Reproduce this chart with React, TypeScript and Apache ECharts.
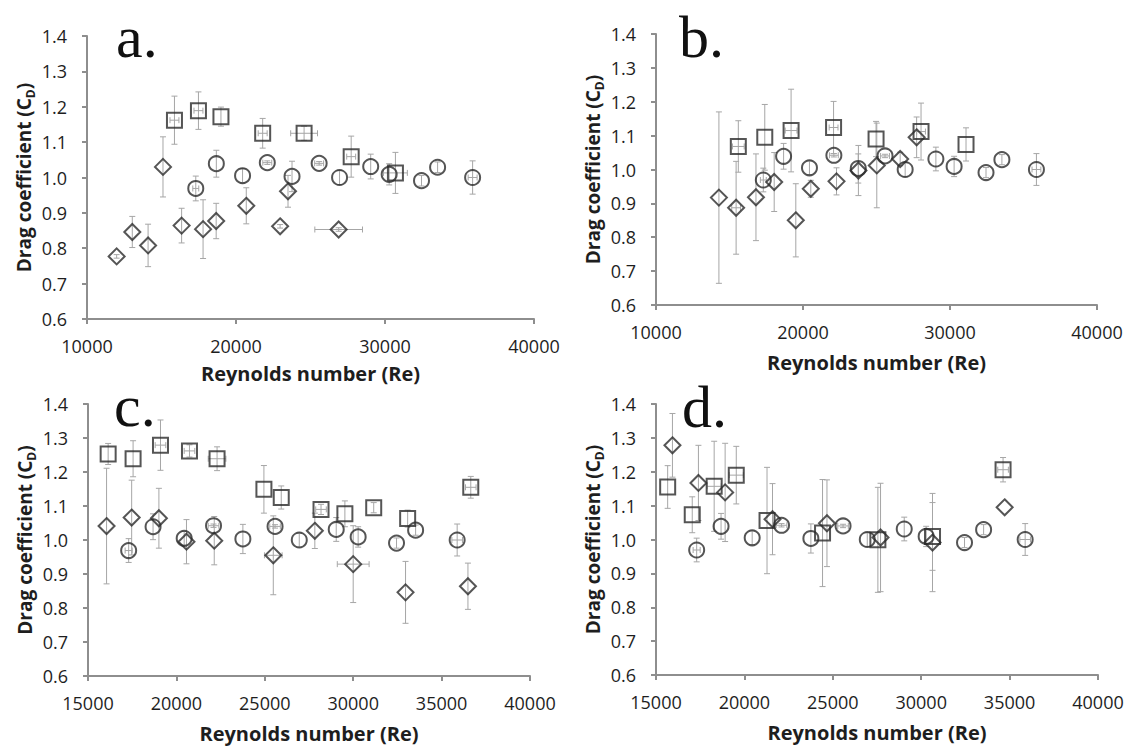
import React, { useEffect, useRef } from "react";
import * as echarts from "echarts";

// Each point: [Reynolds number, drag coefficient, Cd error (half), Re error (half)]
// Reference cylinder (circles) - same in every panel
const cylinder = [
  [17300, 0.969, 0.035, 200],
  [18680, 1.039, 0.038, 0],
  [20440, 1.005, 0.02, 0],
  [22100, 1.042, 0.005, 300],
  [23760, 1.003, 0.043, 0],
  [25580, 1.04, 0.005, 300],
  [26950, 1.0, 0.02, 0],
  [29040, 1.031, 0.035, 0],
  [30280, 1.009, 0.03, 0],
  [32450, 0.991, 0.015, 0],
  [33530, 1.029, 0.015, 0],
  [35880, 1.0, 0.047, 300],
];

// Panel a
const aSquares = [
  [15870, 1.162, 0.068, 300],
  [17480, 1.189, 0.053, 300],
  [18990, 1.172, 0.027, 0],
  [21790, 1.125, 0.042, 300],
  [24570, 1.125, 0.02, 900],
  [27730, 1.059, 0.058, 300],
  [30700, 1.013, 0.058, 800],
];
const aDiamonds = [
  [11990, 0.777, 0.005, 0],
  [13040, 0.846, 0.044, 0],
  [14100, 0.808, 0.06, 0],
  [15100, 1.03, 0.085, 0],
  [16350, 0.864, 0.049, 0],
  [17790, 0.854, 0.083, 0],
  [18670, 0.877, 0.05, 0],
  [20690, 0.92, 0.051, 0],
  [22960, 0.862, 0.005, 0],
  [23490, 0.961, 0.045, 0],
  [26890, 0.853, 0.005, 1600],
];

// Panel b
const bSquares = [
  [15600, 1.068, 0.076, 400],
  [17400, 1.095, 0.097, 0],
  [19190, 1.115, 0.122, 400],
  [22080, 1.124, 0.077, 300],
  [24970, 1.09, 0.052, 0],
  [28030, 1.112, 0.084, 300],
  [31090, 1.074, 0.049, 0],
];
const bDiamonds = [
  [14280, 0.917, 0.253, 0],
  [15450, 0.887, 0.137, 300],
  [16800, 0.918, 0.128, 0],
  [18040, 0.963, 0.087, 0],
  [19510, 0.85, 0.108, 0],
  [20530, 0.943, 0.025, 0],
  [22280, 0.965, 0.04, 0],
  [23770, 0.997, 0.074, 0],
  [25020, 1.012, 0.125, 0],
  [26610, 1.031, 0.02, 0],
  [27730, 1.095, 0.06, 0],
];

// Panel c
const cSquares = [
  [16140, 1.253, 0.031, 0],
  [17550, 1.239, 0.053, 0],
  [19100, 1.279, 0.074, 300],
  [20740, 1.262, 0.018, 300],
  [22300, 1.239, 0.035, 500],
  [24950, 1.149, 0.07, 0],
  [25930, 1.125, 0.034, 0],
  [28180, 1.09, 0.015, 300],
  [29530, 1.077, 0.038, 0],
  [31160, 1.095, 0.015, 0],
  [33080, 1.063, 0.025, 0],
  [36650, 1.155, 0.032, 300],
];
const cDiamonds = [
  [16050, 1.041, 0.17, 0],
  [17470, 1.066, 0.11, 0],
  [19010, 1.064, 0.088, 0],
  [20570, 0.995, 0.065, 0],
  [22140, 0.998, 0.071, 0],
  [25480, 0.955, 0.116, 500],
  [27830, 1.027, 0.052, 0],
  [30000, 0.929, 0.113, 900],
  [32960, 0.846, 0.091, 0],
  [36490, 0.864, 0.068, 0],
];

// Panel d
const dSquares = [
  [15660, 1.155, 0.063, 0],
  [17050, 1.073, 0.053, 0],
  [18290, 1.157, 0.133, 400],
  [19540, 1.19, 0.085, 400],
  [21280, 1.056, 0.157, 0],
  [24420, 1.019, 0.158, 0],
  [27550, 0.999, 0.155, 0],
  [30640, 1.009, 0.1, 0],
  [34630, 1.206, 0.036, 300],
];
const dDiamonds = [
  [15930, 1.278, 0.094, 0],
  [17400, 1.167, 0.111, 0],
  [18910, 1.139, 0.145, 0],
  [21590, 1.06, 0.105, 0],
  [24670, 1.048, 0.128, 0],
  [27700, 1.006, 0.16, 0],
  [30640, 0.991, 0.145, 0],
  [34720, 1.095, 0, 0],
];

const panelLetters = ["a.", "b.", "c.", "d."];
const reMin = [10000, 10000, 15000, 15000];
const reMax = 40000;
const reInterval = [10000, 10000, 5000, 5000];
const cdMin = 0.6;
const cdMax = 1.4;
const cdInterval = 0.1;
const xTitle = "Reynolds number (Re)";

const panelData = [
  { squares: aSquares, circles: cylinder, diamonds: aDiamonds },
  { squares: bSquares, circles: cylinder, diamonds: bDiamonds },
  { squares: cSquares, circles: cylinder, diamonds: cDiamonds },
  { squares: dSquares, circles: cylinder, diamonds: dDiamonds },
];

// layout (pixels)
const grids = [
  { left: 87, top: 36, width: 447, height: 283 },
  { left: 656, top: 34, width: 441, height: 271 },
  { left: 88, top: 404, width: 442, height: 272 },
  { left: 656, top: 404, width: 442, height: 271 },
];
const letterPos = [
  [116, 37],
  [679, 37],
  [114, 406],
  [682, 407],
];
const xNameGap = [44, 47, 47, 47];

const FONT = '"Open Sans", "Liberation Sans", sans-serif';
const MARK = "#2a2a2a";
const ERR = "#a6a6a6";
const AXIS = "#8e8e8e";
const TEXT = "#1e1e1e";

function errorBars(_params: any, api: any) {
  const x = api.value(0);
  const y = api.value(1);
  const ey = api.value(2);
  const ex = api.value(3);
  const c = api.coord([x, y]);
  const style = { stroke: ERR, lineWidth: 1, fill: null };
  const CAP = 3;
  const kids: any[] = [];
  if (ey > 0) {
    const t = api.coord([x, y + ey])[1];
    const b = api.coord([x, y - ey])[1];
    kids.push({ type: "line", shape: { x1: c[0], y1: t, x2: c[0], y2: b }, style });
    kids.push({ type: "line", shape: { x1: c[0] - CAP, y1: t, x2: c[0] + CAP, y2: t }, style });
    kids.push({ type: "line", shape: { x1: c[0] - CAP, y1: b, x2: c[0] + CAP, y2: b }, style });
  }
  if (ex > 0) {
    const l = api.coord([x - ex, y])[0];
    const r = api.coord([x + ex, y])[0];
    kids.push({ type: "line", shape: { x1: l, y1: c[1], x2: r, y2: c[1] }, style });
    kids.push({ type: "line", shape: { x1: l, y1: c[1] - CAP, x2: l, y2: c[1] + CAP }, style });
    kids.push({ type: "line", shape: { x1: r, y1: c[1] - CAP, x2: r, y2: c[1] + CAP }, style });
  }
  return { type: "group", children: kids };
}

export default function App() {
  const ref = useRef<HTMLDivElement>(null);
  useEffect(() => {
    if (!ref.current) return;
    const chart = echarts.init(ref.current, null, { renderer: "svg" });
    const series: any[] = [];
    panelData.forEach((p, i) => {
      const sets: [number[][], string, number][] = [
        [p.circles, "circle", 15],
        [p.diamonds, "diamond", 16],
        [p.squares, "rect", 15],
      ];
      sets.forEach(([data, symbol, size]) => {
        series.push({
          type: "custom",
          xAxisIndex: i,
          yAxisIndex: i,
          data,
          encode: { x: 0, y: 1 },
          renderItem: errorBars,
          silent: true,
          z: 1,
        });
        series.push({
          type: "scatter",
          xAxisIndex: i,
          yAxisIndex: i,
          data: data.map((d) => [d[0], d[1]]),
          symbol,
          symbolSize: size,
          itemStyle: { color: "rgba(0,0,0,0)", borderColor: MARK, borderWidth: 2 },
          silent: true,
          z: 3,
        });
      });
    });

    const option: any = {
      animation: false,
      backgroundColor: "#ffffff",
      grid: grids.map((g) => ({ ...g, containLabel: false })),
      xAxis: grids.map((_, i) => ({
        gridIndex: i,
        type: "value",
        min: reMin[i],
        max: reMax,
        interval: reInterval[i],
        axisLine: { show: true, onZero: false, lineStyle: { color: AXIS, width: 2 } },
        axisTick: { show: true, length: 5, lineStyle: { color: AXIS, width: 2 } },
        splitLine: { show: false },
        axisLabel: {
          margin: 18,
          fontSize: 18,
          fontFamily: FONT,
          color: TEXT,
          formatter: (v: number) => String(v),
        },
        name: xTitle,
        nameLocation: "middle",
        nameGap: xNameGap[i],
        nameTextStyle: { fontSize: 20, fontWeight: "bold", fontFamily: FONT, color: TEXT },
      })),
      yAxis: grids.map((_, i) => ({
        gridIndex: i,
        type: "value",
        min: cdMin,
        max: cdMax,
        interval: cdInterval,
        axisLine: { show: true, onZero: false, lineStyle: { color: AXIS, width: 2 } },
        axisTick: { show: true, length: 5, lineStyle: { color: AXIS, width: 2 } },
        splitLine: { show: false },
        axisLabel: {
          margin: 20,
          fontSize: 18,
          fontFamily: FONT,
          color: TEXT,
          formatter: (v: number) => v.toFixed(1),
        },
        name: "{t|Drag coefficient (C}{s|D}{t|)}",
        nameLocation: "middle",
        nameGap: 51,
        nameTextStyle: {
          rich: {
            t: { fontSize: 19, fontWeight: "bold", fontFamily: FONT, color: TEXT, lineHeight: 24 },
            s: {
              fontSize: 12,
              fontWeight: "bold",
              fontFamily: FONT,
              color: TEXT,
              lineHeight: 14,
              verticalAlign: "bottom",
            },
          },
        },
      })),
      graphic: panelLetters.map((l, i) => ({
        type: "text",
        x: letterPos[i][0],
        y: letterPos[i][1],
        z: 10,
        style: {
          text: l,
          font: '60px "Liberation Serif", "Times New Roman", serif',
          fill: "#111",
          textAlign: "left",
          textVerticalAlign: "middle",
        },
      })),
      series,
    };
    chart.setOption(option);
    return () => chart.dispose();
  }, []);
  return (
    <div
      ref={ref}
      style={{ position: "absolute", left: 0, top: 0, width: 1133, height: 749, background: "#fff" }}
    />
  );
}
